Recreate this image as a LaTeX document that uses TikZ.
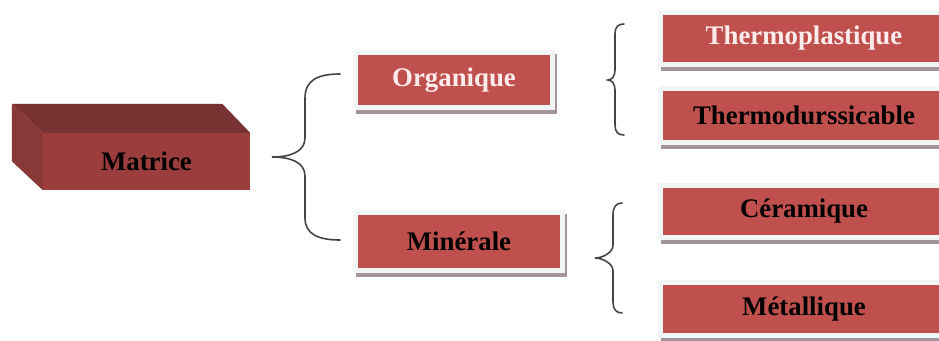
\documentclass[tikz,border=0pt]{standalone}
\usepackage{fontspec}
\setmainfont{Liberation Serif}
\usetikzlibrary{backgrounds}
\definecolor{boxred}{HTML}{C0504D}
\definecolor{framecol}{HTML}{F1F5F6}
\definecolor{shadowcol}{HTML}{A3939B}
\definecolor{lighttext}{HTML}{FCECEC}
\definecolor{mfront}{HTML}{9A3D3C}
\definecolor{mtop}{HTML}{773231}
\definecolor{mleft}{HTML}{883837}
\definecolor{bracecol}{HTML}{454545}
\begin{document}
\begin{tikzpicture}[x=1pt,y=-1pt,
  catbox/.style={fill=boxred, inner sep=0pt, font=\fontsize{26.8}{30}\selectfont\bfseries, text=black},
  lighttxt/.style={text=lighttext},
  brace/.style={draw=bracecol, line width=1.6pt, line cap=round}]
\clip (0,0) rectangle (939,340);

% Matrice 3D block
\node[catbox, fill=mfront, minimum width=207pt, minimum height=57pt] (mat) at (146.5,161.5) {Matrice};
\fill[mtop] (mat.north west) -- ++(-31pt,29pt) -- ([shift={(-28pt,29pt)}]mat.north east) -- (mat.north east) -- cycle;
\fill[mleft] (mat.north west) -- ++(-31pt,29pt) -- ([shift={(-31pt,29pt)}]mat.south west) -- (mat.south west) -- cycle;

% category boxes
\node[catbox, lighttxt, minimum width=192pt, minimum height=50pt] (org) at (454,80) {Organique};
\node[catbox, minimum width=202pt, minimum height=53pt] (min) at (459,241.5) {Minérale};
\node[catbox, lighttxt, minimum width=282pt, minimum height=47pt] (tp) at (804,38.5) {Thermoplastique};
\node[catbox, minimum width=282pt, minimum height=49pt] (td) at (804,115.5) {Thermodurssicable};
\node[catbox, minimum width=282pt, minimum height=47pt] (cer) at (804,211.5) {Céramique};
\node[catbox, minimum width=282pt, minimum height=48pt] (met) at (804,309) {Métallique};

\begin{scope}[on background layer]
  \fill[white] (0,0) rectangle (939,340);
  \foreach \n in {org,min,tp,td,cer,met} {
    \fill[shadowcol] ([shift={(-2pt,-9pt)}]\n.south west) rectangle ([shift={(7pt,1pt)}]\n.north east);
    \fill[framecol] ([shift={(-5pt,-5pt)}]\n.south west) rectangle ([shift={(5pt,5pt)}]\n.north east);
  }
\end{scope}

% braces
\draw[brace] (340,74) .. controls (318,74) and (305,80) .. (305,98) -- (305,138) .. controls (305,152) and (290,157) .. (272,157) .. controls (290,157) and (305,162) .. (305,176) -- (305,218) .. controls (305,234) and (318,240) .. (340,240);
\draw[brace] (624,24) .. controls (618,24) and (615,27) .. (615,34) -- (615,70) .. controls (615,76) and (612,80) .. (608,80) .. controls (612,80) and (615,84) .. (615,90) -- (615,125) .. controls (615,132) and (618,135) .. (624,135);
\draw[brace] (622,203) .. controls (616,203) and (613,207) .. (613,215) -- (613,245) .. controls (613,253) and (602,258) .. (595,258) .. controls (602,258) and (613,263) .. (613,271) -- (613,302) .. controls (613,309) and (616,313) .. (622,313);
\end{tikzpicture}
\end{document}
